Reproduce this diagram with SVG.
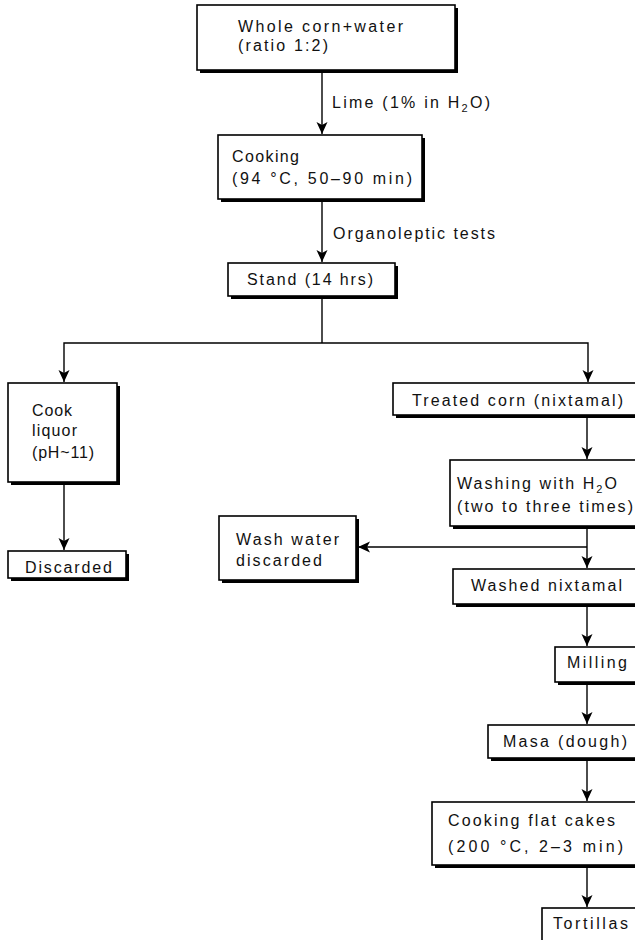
<svg xmlns="http://www.w3.org/2000/svg" width="635" height="940" viewBox="0 0 635 940">
<defs>
<style>
.bx{fill:#fff;stroke:#000;stroke-width:1.6}
.sh{fill:#000}
.t{font-family:"Liberation Sans",Arial,sans-serif;font-size:16px;fill:#111}
.ln{fill:none;stroke:#000;stroke-width:1.4}
</style>
<marker id="ah" markerUnits="userSpaceOnUse" markerWidth="14" markerHeight="12" viewBox="0 0 14 12" refX="13" refY="6" orient="auto-start-reverse">
<path d="M1,0.5 L13,6 L1,11.5 L4,6 Z" fill="#000"/>
</marker>
</defs>
<rect width="635" height="940" fill="#fff"/>

<g id="connectors">
<line class="ln" x1="322" y1="70" x2="322" y2="134" marker-end="url(#ah)"/>
<line class="ln" x1="322" y1="199" x2="322" y2="262" marker-end="url(#ah)"/>
<polyline class="ln" points="322,296 322,343"/>
<polyline class="ln" points="64,382 64,343 588,343 588,382" marker-start="url(#ah)" marker-end="url(#ah)"/>
<line class="ln" x1="64" y1="482" x2="64" y2="550" marker-end="url(#ah)"/>
<line class="ln" x1="587" y1="415" x2="587" y2="459" marker-end="url(#ah)"/>
<line class="ln" x1="587" y1="526" x2="587" y2="568" marker-end="url(#ah)"/>
<line class="ln" x1="587" y1="547" x2="358" y2="547" marker-end="url(#ah)"/>
<line class="ln" x1="587" y1="604" x2="587" y2="646" marker-end="url(#ah)"/>
<line class="ln" x1="587" y1="682" x2="587" y2="724" marker-end="url(#ah)"/>
<line class="ln" x1="587" y1="758" x2="587" y2="801" marker-end="url(#ah)"/>
<line class="ln" x1="587" y1="865" x2="587" y2="907" marker-end="url(#ah)"/>
<text class="t" x="332" y="108" textLength="158" lengthAdjust="spacing">Lime (1% in H<tspan font-size="11" dy="4">2</tspan><tspan dy="-4">O)</tspan></text>
<text class="t" x="333" y="239" textLength="162" lengthAdjust="spacing">Organoleptic tests</text>
</g>

<g id="n1">
<rect class="sh" x="200" y="8" width="258" height="65"/>
<rect class="bx" x="197" y="5" width="258" height="65"/>
<text class="t" x="238" y="32" textLength="165" lengthAdjust="spacing">Whole corn+water</text>
<text class="t" x="238" y="51" textLength="90" lengthAdjust="spacing">(ratio 1:2)</text>
</g>

<g id="n2">
<rect class="sh" x="221" y="138" width="204" height="64"/>
<rect class="bx" x="218" y="135" width="204" height="64"/>
<text class="t" x="232" y="162" textLength="67" lengthAdjust="spacing">Cooking</text>
<text class="t" x="232" y="184" textLength="180" lengthAdjust="spacing">(94 °C, 50–90 min)</text>
</g>

<g id="n3">
<rect class="sh" x="231" y="266" width="167" height="33"/>
<rect class="bx" x="228" y="263" width="167" height="33"/>
<text class="t" x="247" y="285" textLength="126" lengthAdjust="spacing">Stand (14 hrs)</text>
</g>

<g id="n4">
<rect class="sh" x="11" y="386" width="109" height="99"/>
<rect class="bx" x="8" y="383" width="109" height="99"/>
<text class="t" x="32" y="416" textLength="40" lengthAdjust="spacing">Cook</text>
<text class="t" x="32" y="436" textLength="45" lengthAdjust="spacing">liquor</text>
<text class="t" x="32" y="458" textLength="62" lengthAdjust="spacing">(pH~11)</text>
</g>

<g id="n5">
<rect class="sh" x="11" y="554" width="118" height="27"/>
<rect class="bx" x="8" y="551" width="118" height="27"/>
<text class="t" x="25" y="573" textLength="87" lengthAdjust="spacing">Discarded</text>
</g>

<g id="n6">
<rect class="sh" x="396" y="386" width="260" height="32"/>
<rect class="bx" x="393" y="383" width="260" height="32"/>
<text class="t" x="412" y="406" textLength="211" lengthAdjust="spacing">Treated corn (nixtamal)</text>
</g>

<g id="n7">
<rect class="sh" x="453" y="463" width="200" height="66"/>
<rect class="bx" x="450" y="460" width="200" height="66"/>
<text class="t" x="457" y="489" textLength="160" lengthAdjust="spacing">Washing with H<tspan font-size="11" dy="4">2</tspan><tspan dy="-4">O</tspan></text>
<text class="t" x="457" y="512" textLength="176" lengthAdjust="spacing">(two to three times)</text>
</g>

<g id="n8">
<rect class="sh" x="222" y="519" width="137" height="64"/>
<rect class="bx" x="219" y="516" width="137" height="64"/>
<text class="t" x="236" y="545" textLength="103" lengthAdjust="spacing">Wash water</text>
<text class="t" x="236" y="566" textLength="86" lengthAdjust="spacing">discarded</text>
</g>

<g id="n9">
<rect class="sh" x="456" y="572" width="200" height="35"/>
<rect class="bx" x="453" y="569" width="200" height="35"/>
<text class="t" x="471" y="591" textLength="151" lengthAdjust="spacing">Washed nixtamal</text>
</g>

<g id="n10">
<rect class="sh" x="558" y="650" width="100" height="35"/>
<rect class="bx" x="555" y="647" width="100" height="35"/>
<text class="t" x="567" y="668" textLength="60" lengthAdjust="spacing">Milling</text>
</g>

<g id="n11">
<rect class="sh" x="491" y="728" width="160" height="33"/>
<rect class="bx" x="488" y="725" width="160" height="33"/>
<text class="t" x="503" y="747" textLength="124" lengthAdjust="spacing">Masa (dough)</text>
</g>

<g id="n12">
<rect class="sh" x="435" y="805" width="220" height="63"/>
<rect class="bx" x="432" y="802" width="220" height="63"/>
<text class="t" x="448" y="826" textLength="167" lengthAdjust="spacing">Cooking flat cakes</text>
<text class="t" x="448" y="852" textLength="175" lengthAdjust="spacing">(200 °C, 2–3 min)</text>
</g>

<g id="n13">
<rect class="sh" x="545" y="911" width="110" height="33"/>
<rect class="bx" x="542" y="908" width="110" height="33"/>
<text class="t" x="553" y="929" textLength="75" lengthAdjust="spacing">Tortillas</text>
</g>
</svg>
